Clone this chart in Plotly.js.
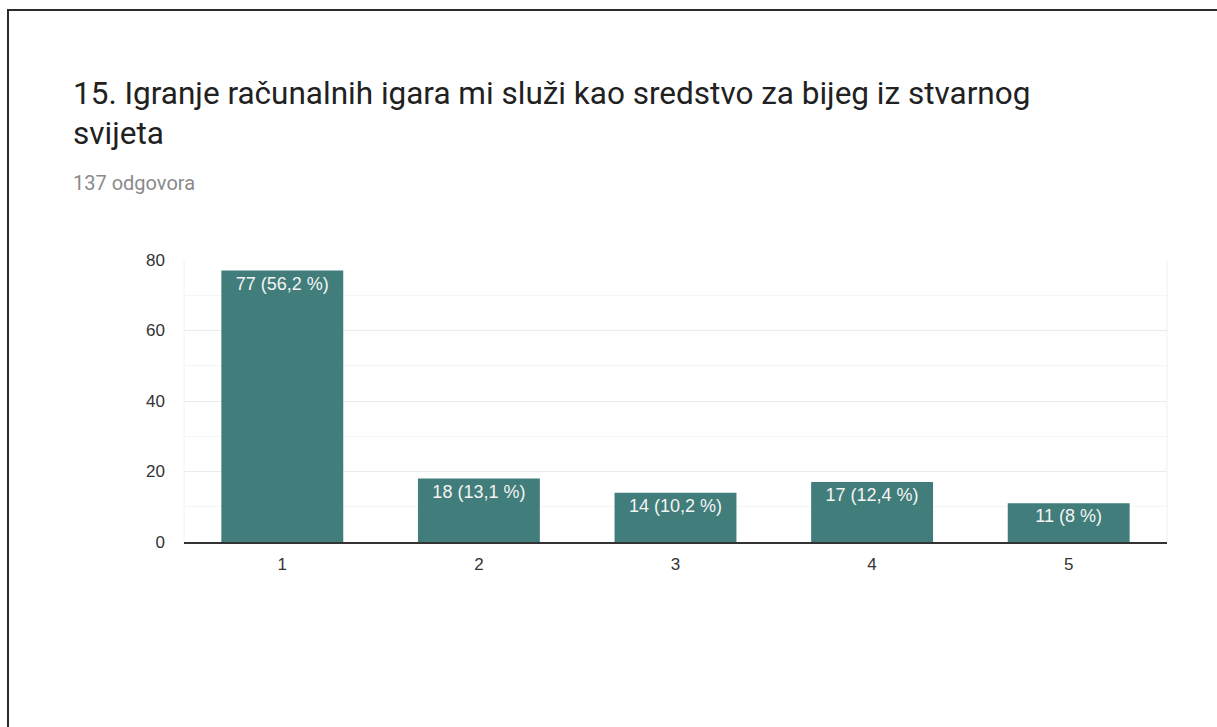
<!DOCTYPE html>
<html>
<head>
<meta charset="utf-8">
<script src="https://cdn.plot.ly/plotly-3.0.1.min.js"></script>
<style>
html,body{margin:0;padding:0;background:#fff;}
#wrap{position:relative;width:1217px;height:727px;overflow:hidden;}
#chart{position:absolute;left:0;top:0;width:1217px;height:727px;}
#frame{position:absolute;left:7px;top:9px;width:1230px;height:740px;border-left:2px solid #2b2b2b;border-top:2px solid #2b2b2b;pointer-events:none;}
</style>
</head>
<body>
<div id="wrap"><div id="chart"></div><div id="frame"></div></div>
<script>
const categories = ["1", "2", "3", "4", "5"];
const counts = [77, 18, 14, 17, 11];
const percentLabels = ["56,2 %", "13,1 %", "10,2 %", "12,4 %", "8 %"];
const yTicks = [0, 20, 40, 60, 80];
const titleLine1 = "15. Igranje računalnih igara mi služi kao sredstvo za bijeg iz stvarnog";
const titleLine2 = "svijeta";
const subtitle = "137 odgovora";

const barText = counts.map((c, i) => c + " (" + percentLabels[i] + ")");

const L = 184, T = 260, B = 185, R = 1217 - 1167;
const plotW = 1217 - L - R, plotH = 727 - T - B;
const px = x => (x - L) / plotW;
const py = y => (727 - B - y) / plotH;

const trace = {
  type: "bar",
  x: categories,
  y: counts,
  text: barText,
  textposition: "inside",
  insidetextanchor: "end",
  textangle: 0,
  textfont: {family: "Liberation Sans, Arial, sans-serif", size: 18, color: "#f4f4f4"},
  marker: {color: "#417d7a"},
  cliponaxis: false,
  hoverinfo: "none"
};

const layout = {
  width: 1217, height: 727,
  margin: {l: L, r: R, t: T, b: B},
  paper_bgcolor: "#ffffff",
  plot_bgcolor: "#ffffff",
  bargap: 0.38,
  showlegend: false,
  font: {family: "Liberation Sans, Arial, sans-serif", color: "#444444", size: 17},
  xaxis: {
    type: "category",
    showline: true, linecolor: "#333333", linewidth: 1.5,
    showgrid: false, ticks: "", zeroline: false,
    ticklabelstandoff: 6,
    tickfont: {size: 17, color: "#333333"}
  },
  yaxis: {
    range: [0, 80],
    tickvals: yTicks,
    showgrid: true, gridcolor: "#ebebeb", gridwidth: 1,
    minor: {dtick: 10, showgrid: true, gridcolor: "#f5f5f5", gridwidth: 1},
    zeroline: false, showline: false, ticks: "",
    ticklabelstandoff: 18,
    tickfont: {size: 17, color: "#333333"}
  },
  shapes: [
    {type: "line", xref: "paper", yref: "paper", x0: 0, x1: 0, y0: 0, y1: 1, line: {color: "#f0f0f0", width: 1}},
    {type: "line", xref: "paper", yref: "paper", x0: 1, x1: 1, y0: 0, y1: 1, line: {color: "#f0f0f0", width: 1}}
  ],
  annotations: [
    {xref: "paper", yref: "paper", x: px(71), y: py(94), xanchor: "left", yanchor: "middle",
     text: titleLine1, showarrow: false, font: {family: "Roboto, sans-serif", size: 31.5, color: "#212121"}},
    {xref: "paper", yref: "paper", x: px(71), y: py(134), xanchor: "left", yanchor: "middle",
     text: titleLine2, showarrow: false, font: {family: "Roboto, sans-serif", size: 31.5, color: "#212121"}},
    {xref: "paper", yref: "paper", x: px(71), y: py(183), xanchor: "left", yanchor: "middle",
     text: subtitle, showarrow: false, font: {family: "Roboto, sans-serif", size: 20, color: "#8a8a8a"}}
  ]
};

Plotly.newPlot("chart", [trace], layout, {displayModeBar: false, staticPlot: true});
</script>
</body>
</html>
